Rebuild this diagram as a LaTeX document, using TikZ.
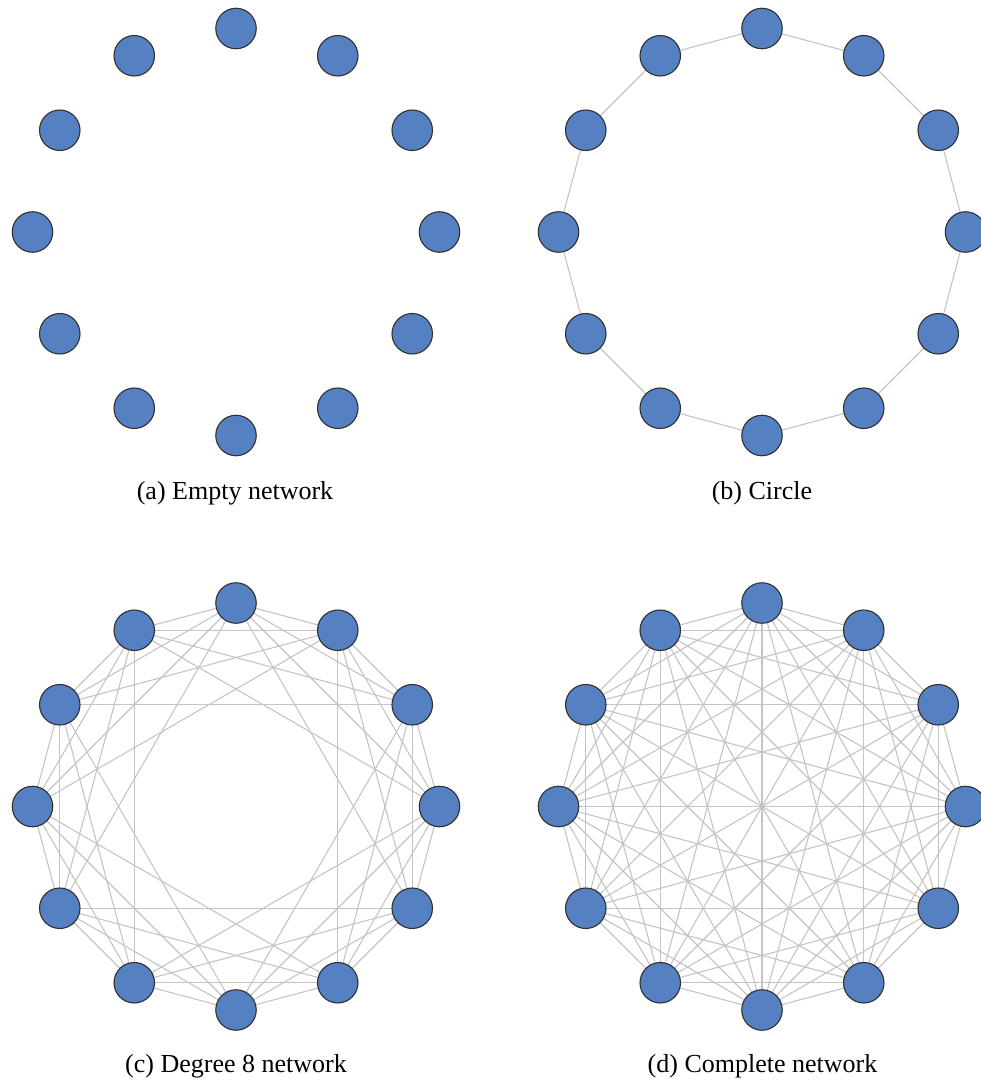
\documentclass[tikz,border=0pt]{standalone}
\usepackage{fontspec}
\setmainfont{Liberation Serif}
\definecolor{nodeblue}{HTML}{5580C2}
\definecolor{nodeborder}{HTML}{303030}
\definecolor{edgegray}{HTML}{C4C4C4}
\begin{document}
\begin{tikzpicture}[x=1pt,y=-1pt,
  vtx/.style={circle,fill=nodeblue,draw=nodeborder,line width=1.1pt,minimum size=40.5pt,inner sep=0pt},
  edge/.style={draw=edgegray,line width=1.1pt},
  caption/.style={font=\fontsize{26}{30}\selectfont,anchor=base}]
\useasboundingbox (0,0) rectangle (981,1083);
\def\R{203.5}
% node positions on the four circles
\foreach \p/\cx/\cy in {a/236/232,b/762/232,c/236/806.5,d/762/806.5}{
  \foreach \i in {0,...,11}{
    \coordinate (\p\i) at ({\cx+\R*cos(90-30*\i)},{\cy-\R*sin(90-30*\i)});
  }
}
% (b) circle
\foreach \i in {0,...,11}{
  \pgfmathtruncatemacro\j{mod(\i+1,12)}
  \draw[edge] (b\i) -- (b\j);
}
% (c) degree 8
\foreach \i in {0,...,11}{
  \foreach \k in {1,...,4}{
    \pgfmathtruncatemacro\j{mod(\i+\k,12)}
    \draw[edge] (c\i) -- (c\j);
  }
}
% (d) complete
\foreach \i in {0,...,10}{
  \pgfmathtruncatemacro\s{\i+1}
  \foreach \j in {\s,...,11}{
    \draw[edge] (d\i) -- (d\j);
  }
}
% nodes
\foreach \p in {a,b,c,d}{
  \foreach \i in {0,...,11}{
    \node[vtx] (n\p\i) at (\p\i) {};
  }
}
\node[caption] (capa) at (235,499) {(a) Empty network};
\node[caption] (capb) at (762,499) {(b) Circle};
\node[caption] (capc) at (236,1072) {(c) Degree 8 network};
\node[caption] (capd) at (762.5,1072) {(d) Complete network};
\end{tikzpicture}
\end{document}
